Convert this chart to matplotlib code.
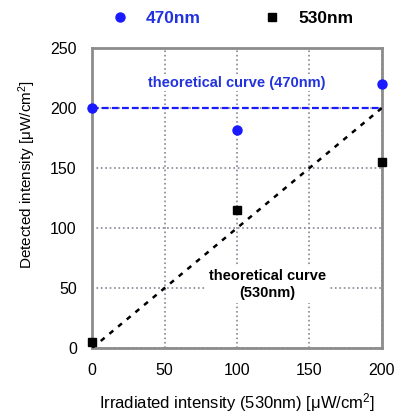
import matplotlib
matplotlib.use('Agg')
import matplotlib.pyplot as plt

plt.rcParams['font.family'] = ['Liberation Sans', 'DejaVu Sans']

# dados
x_irr = [0, 100, 200]
det_470 = [200, 182, 220]
det_530 = [5, 115, 155]
teo_x = [0, 200]
teo_470 = [200, 200]
teo_530 = [0, 200]
xticks = [0, 50, 100, 150, 200]
yticks = [0, 50, 100, 150, 200, 250]

fig = plt.figure(figsize=(3.97, 4.13), dpi=100)
ax = fig.add_axes([0.232, 0.157, 0.73, 0.727])

ax.grid(True, linestyle=':', color='#8a8494', linewidth=1.2)
ax.set_axisbelow(True)

ax.plot(teo_x, teo_470, linestyle='--', color='#1a1aff', linewidth=1.6, dashes=(3, 1.5), zorder=3)
ax.plot(teo_x, teo_530, linestyle='--', color='black', linewidth=1.8, dashes=(2, 2.5), zorder=3)
ax.plot(x_irr, det_470, 'o', color='#1a1aff', markersize=6.5, clip_on=False, zorder=5, label='470nm')
ax.plot(x_irr, det_530, 's', color='black', markersize=5.8, clip_on=False, zorder=5, label='530nm')

ax.text(100, 221, 'theoretical curve (470nm)', color='#2233dd', fontsize=10.5, fontweight='bold',
        ha='center', va='center', zorder=4,
        bbox=dict(facecolor='white', edgecolor='none', pad=1))
ax.text(121, 53, 'theoretical curve\n(530nm)', color='black', fontsize=10.5, fontweight='bold',
        ha='center', va='center', linespacing=1.3, zorder=4,
        bbox=dict(facecolor='white', edgecolor='none', pad=2))

ax.set_xlim(0, 200)
ax.set_ylim(0, 250)
ax.set_xticks(xticks)
ax.set_yticks(yticks)
ax.tick_params(length=0, labelsize=11.5)
ax.tick_params(axis='x', pad=11)
ax.tick_params(axis='y', pad=11)
for s in ax.spines.values():
    s.set_color('#8c8c8c')
    s.set_linewidth(2)

ax.set_xlabel(r'Irradiated intensity (530nm) [$\mathregular{\mu W/cm^2}$]', fontsize=12, labelpad=9)
ax.set_ylabel(r'Detected intensity [$\mathregular{\mu W/cm^2}$]', fontsize=11, labelpad=10)
ax.yaxis.set_label_coords(-0.185, 0.58)

leg = fig.legend(loc='upper center', bbox_to_anchor=(0.585, 1.012), ncol=2, frameon=False,
                 columnspacing=3.6, handletextpad=1.0, handlelength=1.0,
                 prop={'weight': 'bold', 'size': 12.5})
leg.get_texts()[0].set_color('#2233dd')

fig.savefig('out.png', dpi=100)
